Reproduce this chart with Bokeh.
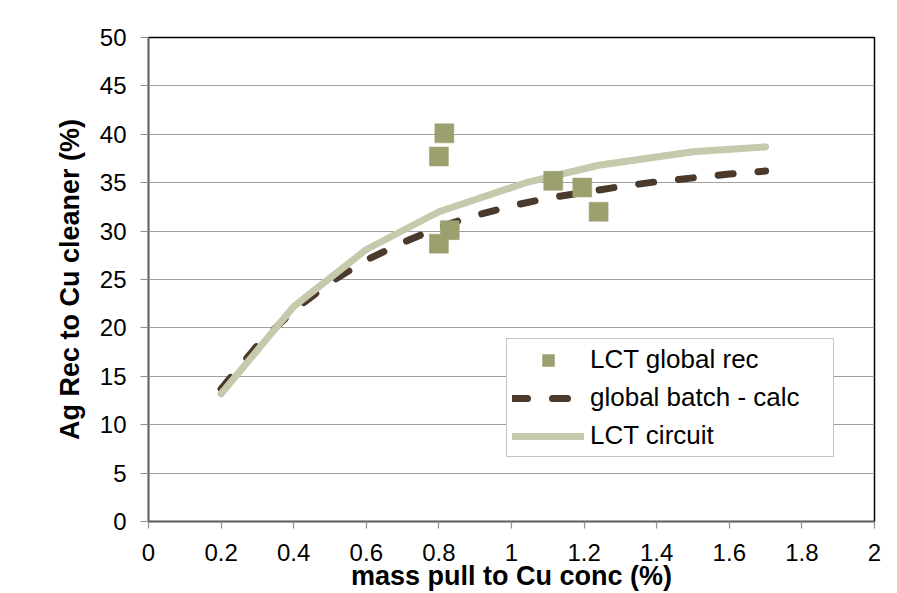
from bokeh.plotting import figure
from bokeh.models import Range1d, FixedTicker, Legend, LegendItem
from bokeh.embed import file_html
from bokeh.resources import INLINE

# ---- data ----
lct_x = [0.80, 0.815, 0.80, 0.83, 1.115, 1.195, 1.24]
lct_y = [37.7, 40.1, 28.7, 30.1, 35.2, 34.5, 32.0]

batch_x = [0.2, 0.3, 0.4, 0.5, 0.6, 0.7, 0.8, 0.9, 1.0, 1.1, 1.2, 1.3, 1.4, 1.5, 1.6, 1.7]
batch_y = [13.7, 18.2, 21.8, 24.7, 27.0, 28.8, 30.4, 31.6, 32.6, 33.4, 34.0, 34.6, 35.1, 35.5, 35.9, 36.2]

circ_x = [0.2, 0.4, 0.6, 0.8, 1.04, 1.24, 1.5, 1.7]
circ_y = [13.2, 22.2, 28.1, 32.0, 35.0, 36.8, 38.2, 38.7]

x_ticks = [0, 0.2, 0.4, 0.6, 0.8, 1.0, 1.2, 1.4, 1.6, 1.8, 2.0]
x_tick_labels = ["0", "0.2", "0.4", "0.6", "0.8", "1", "1.2", "1.4", "1.6", "1.8", "2"]
y_ticks = [0, 5, 10, 15, 20, 25, 30, 35, 40, 45, 50]

FONT = "Liberation Sans"

p = figure(width=889, height=593, output_backend="svg", toolbar_location=None,
           x_range=Range1d(0, 2), y_range=Range1d(0, 50),
           min_border_left=148, min_border_top=37, min_border_right=15, min_border_bottom=72)
p.background_fill_color = "white"
p.border_fill_color = "white"
p.outline_line_color = "black"
p.outline_line_width = 1.5

# grid
p.xgrid.visible = False
p.ygrid.grid_line_color = "#a0a0a0"
p.ygrid.grid_line_width = 1.2
p.ygrid.ticker = FixedTicker(ticks=y_ticks)

# axes
p.xaxis.ticker = FixedTicker(ticks=x_ticks)
p.xaxis.major_label_overrides = {t: l for t, l in zip(x_ticks, x_tick_labels)}
p.yaxis.ticker = FixedTicker(ticks=y_ticks)
for ax in (p.xaxis, p.yaxis):
    ax.axis_line_color = "#606060"
    ax.axis_line_width = 1.5
    ax.major_tick_line_color = "#909090"
    ax.major_tick_line_width = 1.2
    ax.major_tick_in = 0
    ax.minor_tick_line_color = None
    ax.major_label_text_font = FONT
    ax.major_label_text_font_size = "24px"
    ax.major_label_text_color = "black"
    ax.axis_label_text_font = FONT
    ax.axis_label_text_font_size = "27px"
    ax.axis_label_text_font_style = "bold"
    ax.axis_label_text_color = "black"
p.xaxis.major_tick_out = 7
p.yaxis.major_tick_out = 8
p.xaxis.major_label_standoff = 15
p.yaxis.major_label_standoff = 14
p.xaxis.axis_label = "mass pull to Cu conc (%)"
p.yaxis.axis_label = "Ag Rec to Cu cleaner (%)"
p.xaxis.axis_label_standoff = -3
p.yaxis.axis_label_standoff = 12

# series
r_batch = p.line(batch_x, batch_y, line_color="#4b3a2b", line_width=7,
                 line_dash="15 25", line_cap="round", line_join="round")
r_circ = p.line(circ_x, circ_y, line_color="#c6c9ab", line_width=7,
                line_cap="round", line_join="round")
r_lct = p.scatter(lct_x, lct_y, marker="square", size=19,
                  fill_color="#9ca06f", line_color="#9ca06f", line_width=0.5)

legend = Legend(items=[
    LegendItem(label="LCT global rec", renderers=[r_lct]),
    LegendItem(label="global batch - calc", renderers=[r_batch]),
    LegendItem(label="LCT circuit", renderers=[r_circ]),
], location=(358, 64))
legend.label_text_font = FONT
legend.label_text_font_size = "26px"
legend.label_text_color = "black"
legend.glyph_width = 72
legend.glyph_height = 30
legend.label_height = 30
legend.label_width = 238
legend.label_standoff = 6
legend.spacing = 7
legend.padding = 5
legend.margin = 0
legend.border_line_color = "#888888"
legend.border_line_width = 1.5
legend.background_fill_color = "white"
legend.background_fill_alpha = 1.0
p.add_layout(legend)

open("out.html", "w").write(file_html(p, INLINE))
